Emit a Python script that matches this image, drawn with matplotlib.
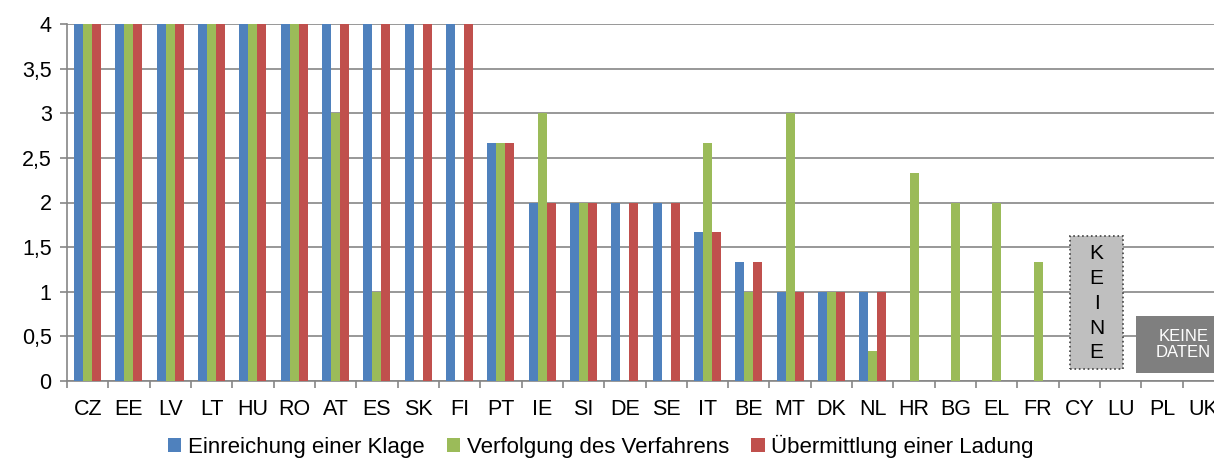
import numpy as np
import matplotlib.pyplot as plt
from matplotlib.patches import Rectangle

countries = ['CZ', 'EE', 'LV', 'LT', 'HU', 'RO', 'AT', 'ES', 'SK', 'FI', 'PT', 'IE', 'SI', 'DE',
             'SE', 'IT', 'BE', 'MT', 'DK', 'NL', 'HR', 'BG', 'EL', 'FR', 'CY', 'LU', 'PL', 'UK']
klage = [4, 4, 4, 4, 4, 4, 4, 4, 4, 4, 2.667, 2, 2, 2,
         2, 1.667, 1.333, 1, 1, 1, 0, 0, 0, 0, 0, 0, 0, 0]
verfahren = [4, 4, 4, 4, 4, 4, 3, 1, 0, 0, 2.667, 3, 2, 0,
             0, 2.667, 1, 3, 1, 0.333, 2.333, 2, 2, 1.333, 0, 0, 0, 0]
ladung = [4, 4, 4, 4, 4, 4, 4, 4, 4, 4, 2.667, 2, 2, 2,
          2, 1.667, 1.333, 1, 1, 1, 0, 0, 0, 0, 0, 0, 0, 0]
series_names = ['Einreichung einer Klage', 'Verfolgung des Verfahrens', 'Übermittlung einer Ladung']
colors = ['#4F81BD', '#9BBB59', '#C0504D']

plt.rcParams['font.family'] = ['Liberation Sans', 'DejaVu Sans']

fig = plt.figure(figsize=(12.14, 4.59), dpi=100)
ax = fig.add_axes([67 / 1214, 78 / 459, 1157 / 1214, 357 / 459])

x = np.arange(len(countries))
w = 0.218
bars = []
for i, (vals, name, c) in enumerate(zip([klage, verfahren, ladung], series_names, colors)):
    b = ax.bar(x + (i - 1) * w, vals, w, color=c, label=name, zorder=3)
    bars.append(b)

ax.set_xlim(-0.5, len(countries) - 0.5)
ax.set_ylim(0, 4)
ax.set_yticks(np.arange(0, 4.01, 0.5))
ax.set_yticklabels(['0', '0,5', '1', '1,5', '2', '2,5', '3', '3,5', '4'], fontsize=15.5)
ax.yaxis.grid(True, color='#868686', linewidth=1.2, zorder=0)
ax.set_xticks(x)
ax.set_xticklabels(countries, fontsize=15.5)
ax.set_xticks(np.arange(-0.5, len(countries), 1), minor=True)
ax.tick_params(axis='x', which='major', length=0, pad=13)
ax.tick_params(axis='x', which='minor', length=5, color='#868686', width=1.2)
ax.tick_params(axis='y', length=5, color='#868686', width=1.2, pad=6)
for s in ['top', 'right']:
    ax.spines[s].set_visible(False)
for s in ['left', 'bottom']:
    ax.spines[s].set_color('#868686')
    ax.spines[s].set_linewidth(1.2)

# "KEINE" box
ax.add_patch(Rectangle((23.78, 0.134), 1.28, 1.49, facecolor='#BFBFBF', edgecolor='#404040',
                       linestyle=':', linewidth=1.2, zorder=4, clip_on=False))
ax.text(24.42, 0.87, 'K\nE\nI\nN\nE', ha='center', va='center', fontsize=15,
        linespacing=1.38, zorder=5)
# "KEINE DATEN" box
ax.add_patch(Rectangle((25.36, 0.09), 3.0, 0.64, facecolor='#7F7F7F', edgecolor='none',
                       zorder=4, clip_on=False))
ax.text(26.52, 0.41, 'KEINE\nDATEN', ha='center', va='center', fontsize=12,
        color='white', linespacing=1.1, zorder=5)

fig.legend(handles=bars, loc='center', bbox_to_anchor=(601 / 1214, 1 - 446 / 459),
           ncol=3, frameon=False, fontsize=16, handlelength=0.6, handleheight=0.6,
           handletextpad=0.3, columnspacing=1.0)

fig.savefig('out.png', dpi=100)
